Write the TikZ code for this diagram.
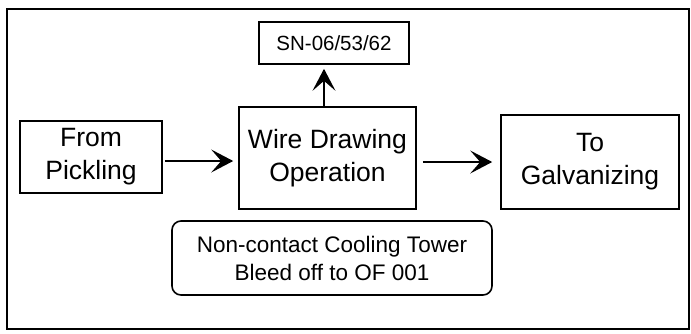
\documentclass[tikz,border=0pt]{standalone}
\usepackage{fontspec}
\setmainfont{Liberation Sans}
\usetikzlibrary{arrows.meta}
\begin{document}
\begin{tikzpicture}[x=1pt,y=-1pt,
  box/.style={draw,line width=1.6pt,inner sep=0pt,align=center},
  big/.style={font=\fontsize{26.5}{33}\selectfont},
  flow/.style={line width=1.8pt,-{Stealth[length=22pt,width=23pt,inset=10pt]}}]
\useasboundingbox (0,0) rectangle (691,333);
\draw[line width=2.2pt] (7,9) rectangle (689,329);
\node[box,big,minimum width=142pt,minimum height=72pt] (from) at (91,157) {From\\Pickling};
\node[box,big,minimum width=177pt,minimum height=102pt] (wire) at (327.5,158) {Wire Drawing\\Operation};
\node[box,big,minimum width=178pt,minimum height=94pt] (galv) at (590,162) {To\\Galvanizing};
\node[box,font=\fontsize{20.5}{25}\selectfont,minimum width=150pt,minimum height=42pt] (sn) at (334,43) {SN-06/53/62};
\node[box,rounded corners=9pt,font=\fontsize{22.5}{28}\selectfont,minimum width=320pt,minimum height=74pt] (cool) at (332,258) {Non-contact Cooling Tower\\Bleed off to OF 001};
\draw[flow,shorten <=2pt,shorten >=5pt] ([yshift=-4pt]from.east) -- ([yshift=-4pt]from.east -| wire.west);
\draw[flow,shorten <=6pt,shorten >=8pt] (wire.east |- galv.west) -- (galv.west);
\draw[flow,shorten >=4pt] ([xshift=-3.5pt]wire.north) -- ([xshift=-3.5pt]wire.north |- sn.south);
\end{tikzpicture}
\end{document}
